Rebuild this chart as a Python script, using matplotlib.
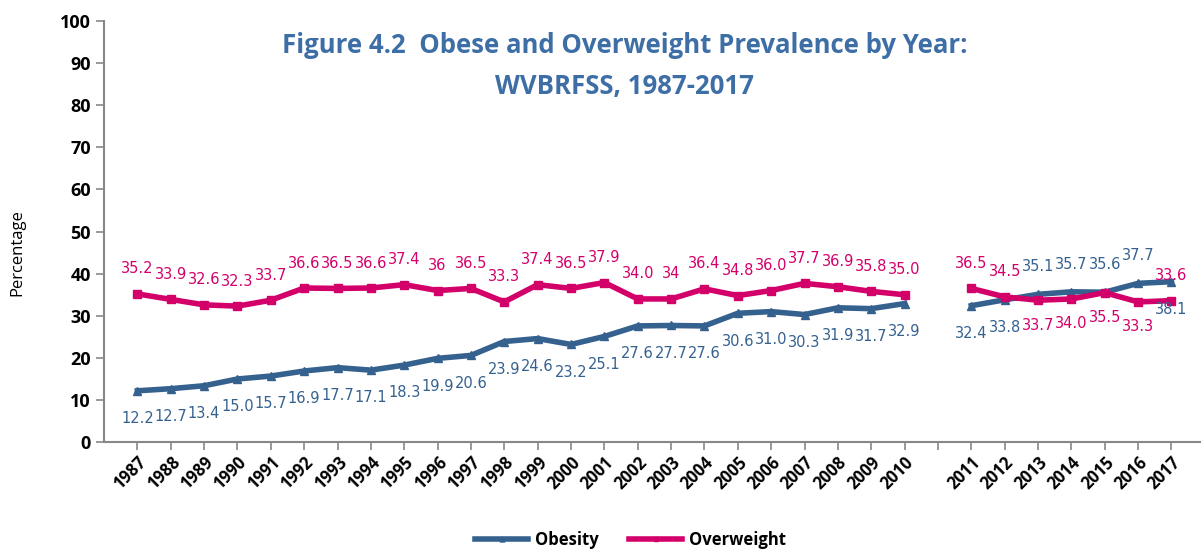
import numpy as np
import matplotlib.pyplot as plt

years = ['1987', '1988', '1989', '1990', '1991', '1992', '1993', '1994', '1995',
         '1996', '1997', '1998', '1999', '2000', '2001', '2002', '2003', '2004',
         '2005', '2006', '2007', '2008', '2009', '2010', '',
         '2011', '2012', '2013', '2014', '2015', '2016', '2017']

obesity = [12.2, 12.7, 13.4, 15.0, 15.7, 16.9, 17.7, 17.1, 18.3, 19.9, 20.6, 23.9,
           24.6, 23.2, 25.1, 27.6, 27.7, 27.6, 30.6, 31.0, 30.3, 31.9, 31.7, 32.9,
           np.nan,
           32.4, 33.8, 35.1, 35.7, 35.6, 37.7, 38.1]
obesity_lbl = ['12.2', '12.7', '13.4', '15.0', '15.7', '16.9', '17.7', '17.1', '18.3',
               '19.9', '20.6', '23.9', '24.6', '23.2', '25.1', '27.6', '27.7', '27.6',
               '30.6', '31.0', '30.3', '31.9', '31.7', '32.9', '',
               '32.4', '33.8', '35.1', '35.7', '35.6', '37.7', '38.1']
# 1 = label above point, -1 = below
obesity_pos = [-1] * 25 + [-1, -1, 1, 1, 1, 1, -1]

overweight = [35.2, 33.9, 32.6, 32.3, 33.7, 36.6, 36.5, 36.6, 37.4, 36.0, 36.5, 33.3,
              37.4, 36.5, 37.9, 34.0, 34.0, 36.4, 34.8, 36.0, 37.7, 36.9, 35.8, 35.0,
              np.nan,
              36.5, 34.5, 33.7, 34.0, 35.5, 33.3, 33.6]
overweight_lbl = ['35.2', '33.9', '32.6', '32.3', '33.7', '36.6', '36.5', '36.6', '37.4',
                  '36', '36.5', '33.3', '37.4', '36.5', '37.9', '34.0', '34', '36.4',
                  '34.8', '36.0', '37.7', '36.9', '35.8', '35.0', '',
                  '36.5', '34.5', '33.7', '34.0', '35.5', '33.3', '33.6']
overweight_pos = [1] * 25 + [1, 1, -1, -1, -1, -1, 1]

c_ob = '#35618f'
c_ow = '#d4006a'
c_title = '#3d6ea5'

fig = plt.figure(figsize=(12.01, 5.5), dpi=100)
ax = fig.add_axes([0.0866, 0.196, 0.9124, 0.766])

x = np.arange(len(years))
ax.plot(x, obesity, color=c_ob, lw=4, marker='^', ms=6, label='Obesity')
ax.plot(x, overweight, color=c_ow, lw=4, marker='s', ms=6, label='Overweight')

for xi, v, t, p in zip(x, obesity, obesity_lbl, obesity_pos):
    if t:
        ax.annotate(t, (xi, v), xytext=(0, 20 * p), textcoords='offset points',
                    ha='center', va='center', color=c_ob, fontsize=10.5)
for xi, v, t, p in zip(x, overweight, overweight_lbl, overweight_pos):
    if t:
        ax.annotate(t, (xi, v), xytext=(0, 18 * p), textcoords='offset points',
                    ha='center', va='center', color=c_ow, fontsize=10.5)

ax.set_xlim(-1, 31.85)
ax.set_ylim(0, 100)
ax.set_yticks(range(0, 101, 10))
ax.set_xticks(x)
ax.set_xticklabels(years, rotation=45, ha='right', rotation_mode='anchor',
                   fontsize=12, fontweight='bold', family='Open Sans')
for lab in ax.get_yticklabels():
    lab.set_fontsize(13)
    lab.set_fontweight('bold')
    lab.set_family('Open Sans')
ax.tick_params(axis='both', color='#888888', length=6, width=1.2, direction='out')
ax.tick_params(axis='x', pad=2)
for s in ['top', 'right']:
    ax.spines[s].set_visible(False)
for s in ['left', 'bottom']:
    ax.spines[s].set_color('#888888')
    ax.spines[s].set_linewidth(1.5)

ax.set_ylabel('Percentage', fontsize=12, family='Open Sans')
ax.yaxis.set_label_coords(-0.072, 0.45)

fig.text(0.52, 0.918, 'Figure 4.2  Obese and Overweight Prevalence by Year:',
         ha='center', va='center', fontsize=18.5, fontweight='bold',
         color=c_title, family='Open Sans')
fig.text(0.52, 0.843, 'WVBRFSS, 1987-2017', ha='center', va='center',
         fontsize=18.5, fontweight='bold', color=c_title, family='Open Sans')

fig.legend(loc='center', bbox_to_anchor=(0.525, 0.018), ncol=2, frameon=False,
           prop={'family': 'Open Sans', 'size': 12, 'weight': 'bold'},
           handlelength=3.2, handletextpad=0.4, markerscale=0.6, columnspacing=1.8)

fig.savefig('out.png', dpi=100)
